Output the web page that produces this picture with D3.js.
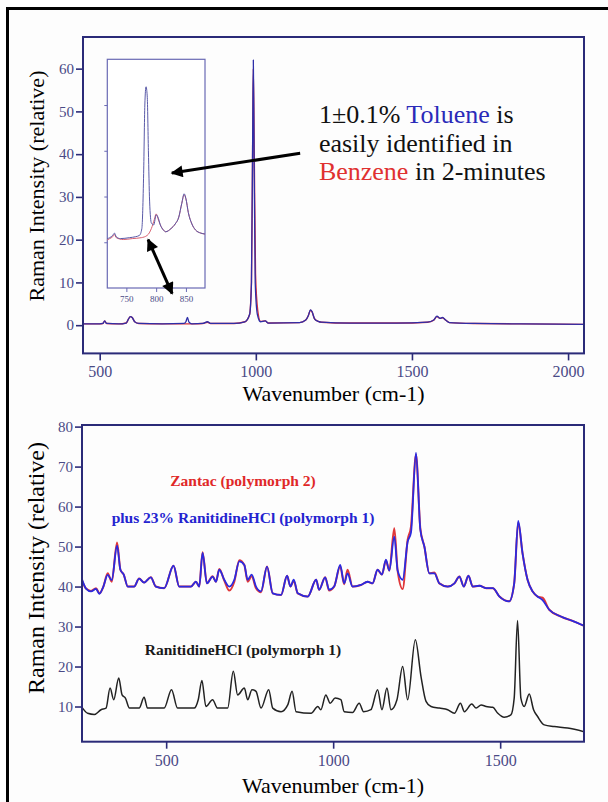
<!DOCTYPE html>
<html>
<head>
<meta charset="utf-8">
<script src="https://cdn.jsdelivr.net/npm/d3@7"></script>
<style>
  body { margin: 0; background: #fdfdfd; }
</style>
</head>
<body>
<div class="charts-container"></div>
<script>

// ---- data: top chart (Toluene in Benzene), [wavenumber, intensity]
var tolueneMix = [[447,0.3],[500,0.3],[510,0.4],[516,1.0],[522,0.4],[560,0.3],[585,0.5],[592,1.4],[598,2.0],[604,1.8],[612,0.8],[625,0.4],
  [700,0.3],[770,0.4],[776,0.8],[781,1.8],[786,0.7],[795,0.3],[830,0.4],[845,0.8],[855,0.4],[930,0.4],[965,0.8],[980,2.5],[986,10],
  [990,45],[992,62],[994,45],[998,10],[1005,2.5],[1015,0.8],[1030,1.0],[1040,0.5],[1140,0.6],[1160,1.2],[1168,2.2],[1175,3.6],[1180,3.2],
  [1188,1.5],[1200,0.9],[1210,0.7],[1300,0.5],[1450,0.5],[1550,0.7],[1570,1.2],[1580,2.1],[1590,1.6],[1598,1.8],[1608,1.2],[1620,0.6],
  [1700,0.4],[1850,0.3],[2051,0.2]];
var benzene = [[447,0.3],[500,0.3],[510,0.4],[516,1.0],[522,0.4],[560,0.3],[585,0.5],[592,1.4],[598,2.0],[604,1.8],[612,0.8],[625,0.4],
  [700,0.3],[800,0.3],[830,0.4],[845,0.7],[855,0.4],[930,0.4],[965,0.8],[980,2.5],[986,10],
  [990,44],[992,60],[995,40],[999,12],[1006,3.5],[1015,0.9],[1030,1.0],[1040,0.5],[1140,0.6],[1160,1.2],[1168,2.2],[1175,3.5],[1180,3.1],
  [1188,1.5],[1200,0.9],[1210,0.7],[1300,0.5],[1450,0.5],[1550,0.7],[1570,1.2],[1580,2.0],[1590,1.6],[1598,1.7],[1608,1.2],[1620,0.6],
  [1700,0.4],[1850,0.3],[2051,0.2]];

// inset (zoom of 720-880 region), arbitrary units
var insetMix = [[718,1.08],[722,1.1],[727,1.15],[730,1.2],[733,1.12],[740,1.08],[755,1.1],[765,1.12],[772,1.15],[776,1.3],[779,2.5],
  [781,4.0],[783,4.4],[785,4.2],[787,3.0],[789,1.9],[792,1.42],[796,1.38],[800,1.6],[803,1.55],[807,1.38],[812,1.27],[816,1.23],
  [825,1.3],[832,1.4],[838,1.55],[843,1.85],[847,2.06],[850,1.95],[854,1.65],[860,1.4],[866,1.27],[875,1.2],[882,1.18]];
var insetBenzene = [[718,1.05],[722,1.08],[727,1.12],[730,1.17],[733,1.1],[745,1.06],[760,1.08],[775,1.1],[785,1.15],[792,1.3],
  [797,1.5],[800,1.62],[803,1.52],[807,1.38],[812,1.27],[816,1.23],
  [825,1.3],[832,1.4],[838,1.55],[843,1.85],[847,2.04],[850,1.95],[854,1.65],[860,1.4],[866,1.27],[875,1.2],[882,1.18]];

// ---- data: bottom chart (Zantac), [wavenumber, intensity]
var zantac = [[248,41.5],[260,39.5],[275,38.9],[290,39.6],[300,38.3],[312,40],[325,43.3],[337,41.2],[353,51],[363,44.2],[373,43],
  [385,40],[404,40],[419,42],[434,41],[454,42.3],[469,40],[494,39.6],[522,45.2],[539,40],[574,40],[589,41.2],[599,40],[609,48.6],
  [622,40.8],[639,42.6],[649,41.2],[659,44.4],[674,41.5],[689,39],[704,41.2],[719,46.6],[734,45.4],[744,41.2],[756,42.6],[769,39.6],
  [784,38.6],[802,45],[819,38.3],[844,37.9],[862,42.7],[872,40],[882,41.4],[894,38.3],[924,37.5],[949,41.7],[958,39.2],[976,42.3],
  [988,39],[1003,40],[1021,45],[1033,40.6],[1043,44.2],[1058,40],[1083,40.4],[1103,41.2],[1118,40.8],[1133,44.2],[1146,43],[1158,46.5],
  [1168,44],[1183,54.6],[1193,44],[1208,39.4],[1223,51.7],[1233,55],[1248,73],[1261,54.5],[1273,50],[1288,43.3],[1303,43.5],[1318,40.8],
  [1343,40],[1363,40.8],[1378,42.5],[1391,40],[1405,42.7],[1418,40],[1438,40.2],[1458,39.6],[1478,39.6],[1498,37.5],[1527,36.3],
  [1542,40.8],[1554,56],[1567,48.3],[1582,41.7],[1597,38.8],[1612,37.5],[1627,37.2],[1647,34.2],[1682,32.5],[1720,31.3],[1751,30.2]];
var zantacPlus = [[248,41.8],[260,39.5],[275,38.8],[290,39.4],[300,38.2],[312,40],[325,42.9],[337,41.6],[353,50.2],[363,44.2],[373,43],
  [385,40],[404,40],[419,42],[434,41],[454,42.3],[469,40],[494,39.6],[522,45.2],[539,40],[574,40],[589,41.2],[599,40],[609,48.4],
  [622,40.8],[639,42.5],[649,41.2],[659,44.2],[674,41.7],[689,40],[704,41.7],[719,46.3],[734,45.4],[744,41.7],[756,43],[769,40],
  [784,38.8],[802,45],[819,38.3],[844,37.9],[862,42.7],[872,40],[882,41.7],[894,38.3],[924,37.5],[949,41.7],[958,39.2],[976,42.3],
  [988,39.2],[1003,40],[1021,45.4],[1033,40.8],[1043,43.3],[1058,40],[1083,40.4],[1103,41.2],[1118,40.8],[1133,44.2],[1146,43],[1158,46.7],
  [1168,44],[1183,52.5],[1193,44],[1208,41.7],[1223,51.2],[1233,53.5],[1248,73.5],[1261,54.2],[1273,50],[1288,43.3],[1303,43.3],[1318,40.8],
  [1343,40],[1363,40.8],[1378,42.5],[1391,40],[1405,42.7],[1418,40],[1438,40.2],[1458,39.6],[1478,39.6],[1498,37.5],[1527,36.3],
  [1542,40.8],[1554,56.4],[1567,48.3],[1582,41.7],[1597,38.8],[1612,37.5],[1627,36.6],[1647,34.2],[1682,32.5],[1720,31.3],[1751,30.2]];
var ranitidine = [[248,9.8],[265,8.3],[285,8.0],[305,9.2],[320,9.6],[332,14.6],[343,11.7],[358,17.1],[368,12.9],[378,12.1],[390,9.6],
  [419,9.6],[434,12.3],[444,9.6],[494,9.6],[516,14.2],[534,9.6],[584,9.6],[596,11.7],[607,16.5],[619,10],[639,11.7],[654,9.6],
  [684,9.6],[701,18.8],[714,12.9],[734,14.6],[744,11.7],[757,14.2],[769,13.8],[784,9.6],[807,14.2],[819,9.6],[844,8.7],[864,10.4],
  [877,13.8],[889,8.7],[934,8.3],[954,10],[963,9.2],[978,12.9],[991,10.8],[1006,12.1],[1023,11.7],[1033,8.7],[1058,8.5],[1078,10.8],
  [1091,8.7],[1113,9.2],[1133,14.2],[1146,9.2],[1161,14.6],[1173,9.2],[1191,11.7],[1208,20],[1223,11.7],[1246,26.7],[1263,17.5],
  [1278,11.3],[1293,10],[1318,9.6],[1343,9.2],[1363,8.3],[1381,10.8],[1393,8.7],[1415,10.6],[1428,9.6],[1443,10.4],[1458,10],
  [1478,9.8],[1493,8.3],[1512,7.3],[1532,7.9],[1542,12.1],[1552,31.5],[1562,12.1],[1572,10],[1587,13.1],[1600,9.2],[1612,7.5],
  [1632,5.4],[1662,5],[1702,4.6],[1751,3.7]];

// tick labels
var topXTicks = [500, 1000, 1500, 2000];
var topYTicks = [0, 10, 20, 30, 40, 50, 60];
var insetXTicks = [750, 800, 850];
var insetYTicks = [1, 2, 3, 4];
var botXTicks = [500, 1000, 1500];
var botYTicks = [10, 20, 30, 40, 50, 60, 70, 80];

var serif = "'Liberation Serif', 'Times New Roman', serif";
var axisColor = "#2b2b78";
var labelColor = "#4a4a86";

var svg = d3.select(".charts-container")
    .append("svg")
    .attr("width", 608)
    .attr("height", 802)
    .attr("font-family", serif);

// outer frame (only top and left are inside the picture)
svg.append("path")
    .attr("d", "M7.5,802V8.5H608")
    .attr("fill", "none")
    .attr("stroke", "#000")
    .attr("stroke-width", 3);

var defs = svg.append("defs");
defs.append("marker")
    .attr("id", "head")
    .attr("viewBox", "0 0 10 10")
    .attr("refX", 9).attr("refY", 5)
    .attr("markerWidth", 14).attr("markerHeight", 12)
    .attr("markerUnits", "userSpaceOnUse")
    .attr("orient", "auto-start-reverse")
    .append("path")
    .attr("d", "M0,0L10,5L0,10z")
    .attr("fill", "#000");

// ================= top chart =================
var xTop = d3.scaleLinear().domain([446.5, 2051]).range([83, 584]);
var yTop = d3.scaleLinear().domain([-6.6, 67.4]).range([353.4, 37]);

defs.append("clipPath").attr("id", "clipTop")
    .append("rect")
    .attr("x", xTop.range()[0]).attr("y", yTop.range()[1])
    .attr("width", xTop.range()[1] - xTop.range()[0])
    .attr("height", yTop.range()[0] - yTop.range()[1]);

var topLine = d3.line()
    .x(function(d) { return xTop(d[0]); })
    .y(function(d) { return yTop(d[1]); })
    .curve(d3.curveMonotoneX);

var gTop = svg.append("g").attr("clip-path", "url(#clipTop)");
gTop.append("path").datum(benzene)
    .attr("d", topLine).attr("fill", "none")
    .attr("stroke", "#d8303a").attr("stroke-width", 1.4);
gTop.append("path").datum(tolueneMix)
    .attr("d", topLine).attr("fill", "none")
    .attr("stroke", "#2e2ea8").attr("stroke-width", 1.3);

function styleAxis(g, size) {
    g.attr("font-family", serif).attr("font-size", size);
    g.select(".domain").remove();
    g.selectAll("line").attr("stroke", axisColor).attr("stroke-width", 1.6);
    g.selectAll("text").attr("fill", labelColor);
}

svg.append("g")
    .attr("transform", "translate(0," + yTop.range()[0] + ")")
    .call(d3.axisBottom(xTop).tickValues(topXTicks).tickSize(7).tickPadding(5).tickFormat(d3.format("d")))
    .call(styleAxis, 16);
svg.append("g")
    .attr("transform", "translate(" + xTop.range()[0] + ",0)")
    .call(d3.axisLeft(yTop).tickValues(topYTicks).tickSize(7).tickPadding(2).tickFormat(d3.format("d")))
    .call(styleAxis, 15);

svg.append("rect")
    .attr("x", xTop.range()[0]).attr("y", yTop.range()[1])
    .attr("width", xTop.range()[1] - xTop.range()[0])
    .attr("height", yTop.range()[0] - yTop.range()[1])
    .attr("fill", "none").attr("stroke", axisColor).attr("stroke-width", 2);

svg.append("text")
    .attr("text-anchor", "middle")
    .attr("x", (xTop.range()[0] + xTop.range()[1]) / 2)
    .attr("y", 401)
    .attr("font-size", 22)
    .text("Wavenumber (cm-1)");
svg.append("text")
    .attr("text-anchor", "middle")
    .attr("transform", "translate(44,186)rotate(-90)")
    .attr("font-size", 22)
    .text("Raman Intensity (relative)");

// inset
var xIn = d3.scaleLinear().domain([718, 882]).range([107.3, 205]);
var yIn = d3.scaleLinear().domain([0, 5]).range([288, 59.3]);

svg.append("rect")
    .attr("x", xIn.range()[0]).attr("y", yIn.range()[1])
    .attr("width", xIn.range()[1] - xIn.range()[0])
    .attr("height", yIn.range()[0] - yIn.range()[1])
    .attr("fill", "#fff").attr("stroke", "#6a6ab4").attr("stroke-width", 1.2);

var inLine = d3.line()
    .x(function(d) { return xIn(d[0]); })
    .y(function(d) { return yIn(d[1]); })
    .curve(d3.curveMonotoneX);

svg.append("path").datum(insetBenzene)
    .attr("d", inLine).attr("fill", "none")
    .attr("stroke", "#d86070").attr("stroke-width", 1);
svg.append("path").datum(insetMix)
    .attr("d", inLine).attr("fill", "none")
    .attr("stroke", "#5a5aa8").attr("stroke-width", 1);

svg.append("g")
    .attr("transform", "translate(0," + yIn.range()[0] + ")")
    .call(d3.axisBottom(xIn).tickValues(insetXTicks).tickSize(4).tickPadding(4))
    .call(styleAxis, 9)
    .selectAll("line").attr("stroke", "#6a6ab4").attr("stroke-width", 1);
svg.append("g")
    .attr("transform", "translate(" + xIn.range()[0] + ",0)")
    .call(d3.axisLeft(yIn).tickValues(insetYTicks).tickSize(3).tickFormat(""))
    .call(styleAxis, 9)
    .selectAll("line").attr("stroke", "#6a6ab4").attr("stroke-width", 1);

// annotation arrows, in top chart data units
svg.append("line")
    .attr("x1", xTop(1142)).attr("y1", yTop(40.2))
    .attr("x2", xTop(731)).attr("y2", yTop(35.6))
    .attr("stroke", "#000").attr("stroke-width", 3)
    .attr("marker-end", "url(#head)");
svg.append("line")
    .attr("x1", xTop(655)).attr("y1", yTop(20))
    .attr("x2", xTop(732)).attr("y2", yTop(7.4))
    .attr("stroke", "#000").attr("stroke-width", 3)
    .attr("marker-start", "url(#head)")
    .attr("marker-end", "url(#head)");

var note = svg.append("text")
    .attr("font-size", 26)
    .attr("font-family", serif)
    .attr("fill", "#111")
    .style("white-space", "pre");
var l1 = note.append("tspan").attr("x", xTop(1202)).attr("y", yTop(47.3));
l1.append("tspan").text("1\u00b10.1% ");
l1.append("tspan").attr("fill", "#2a2ab8").text("Toluene");
l1.append("tspan").text(" is");
note.append("tspan").attr("x", xTop(1202)).attr("y", yTop(40.5)).text("easily identified in");
var l3 = note.append("tspan").attr("x", xTop(1202)).attr("y", yTop(33.9));
l3.append("tspan").attr("fill", "#e03030").text("Benzene");
l3.append("tspan").text(" in 2-minutes");

// ================= bottom chart =================
var xBot = d3.scaleLinear().domain([248, 1751]).range([82, 584]);
var yBot = d3.scaleLinear().domain([1.2, 80.4]).range([741.7, 425]);

defs.append("clipPath").attr("id", "clipBot")
    .append("rect")
    .attr("x", xBot.range()[0]).attr("y", yBot.range()[1])
    .attr("width", xBot.range()[1] - xBot.range()[0])
    .attr("height", yBot.range()[0] - yBot.range()[1]);

var botLine = d3.line()
    .x(function(d) { return xBot(d[0]); })
    .y(function(d) { return yBot(d[1]); })
    .curve(d3.curveMonotoneX);

var gBot = svg.append("g").attr("clip-path", "url(#clipBot)");
gBot.append("path").datum(ranitidine)
    .attr("d", botLine).attr("fill", "none")
    .attr("stroke", "#222").attr("stroke-width", 1.5);
gBot.append("path").datum(zantac)
    .attr("d", botLine).attr("fill", "none")
    .attr("stroke", "#e0383a").attr("stroke-width", 2);
gBot.append("path").datum(zantacPlus)
    .attr("d", botLine).attr("fill", "none")
    .attr("stroke", "#2a2ae0").attr("stroke-width", 1.8);

svg.append("g")
    .attr("transform", "translate(0," + yBot.range()[0] + ")")
    .call(d3.axisBottom(xBot).tickValues(botXTicks).tickSize(7).tickPadding(6).tickFormat(d3.format("d")))
    .call(styleAxis, 16);
svg.append("g")
    .attr("transform", "translate(" + xBot.range()[0] + ",0)")
    .call(d3.axisLeft(yBot).tickValues(botYTicks).tickSize(7).tickPadding(2).tickFormat(d3.format("d")))
    .call(styleAxis, 15);

svg.append("rect")
    .attr("x", xBot.range()[0]).attr("y", yBot.range()[1])
    .attr("width", xBot.range()[1] - xBot.range()[0])
    .attr("height", yBot.range()[0] - yBot.range()[1])
    .attr("fill", "none").attr("stroke", axisColor).attr("stroke-width", 2);

svg.append("text")
    .attr("text-anchor", "middle")
    .attr("x", (xBot.range()[0] + xBot.range()[1]) / 2)
    .attr("y", 793)
    .attr("font-size", 22)
    .text("Wavenumber (cm-1)");
svg.append("text")
    .attr("text-anchor", "middle")
    .attr("transform", "translate(44,568)rotate(-90)")
    .attr("font-size", 24)
    .text("Raman Intensity (relative)");

// series labels
var labels = [
  {text: "Zantac (polymorph 2)", color: "#e02828", y: 65.2},
  {text: "plus 23% RanitidineHCl (polymorph 1)", color: "#2424d0", y: 55.9},
  {text: "RanitidineHCl (polymorph 1)", color: "#1a1a1a", y: 22.9}
];
svg.selectAll(".series-label")
    .data(labels)
    .enter().append("text")
    .attr("class", "series-label")
    .attr("text-anchor", "middle")
    .attr("x", xBot(730))
    .attr("y", function(d) { return yBot(d.y); })
    .attr("fill", function(d) { return d.color; })
    .attr("font-size", 15.5)
    .attr("font-weight", "bold")
    .text(function(d) { return d.text; });

</script>
</body>
</html>
